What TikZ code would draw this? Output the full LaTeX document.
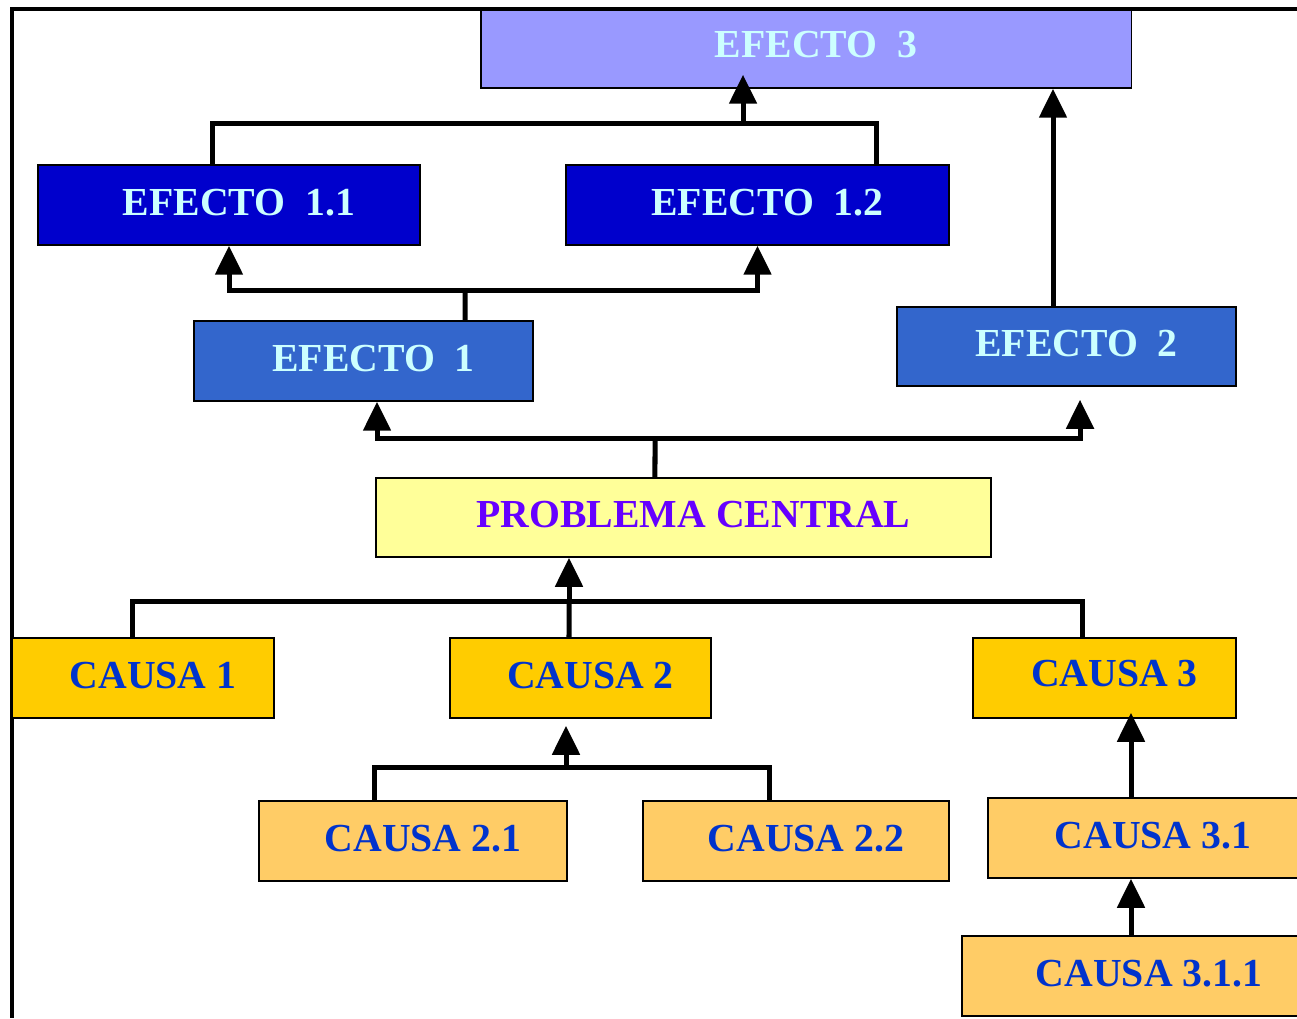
\documentclass[tikz,border=0pt]{standalone}
\usepackage{fontspec}
\setmainfont{Liberation Serif}
\usetikzlibrary{arrows.meta}

\definecolor{efectoTres}{HTML}{9999FF}
\definecolor{efectoOsc}{HTML}{0000CC}
\definecolor{efectoMed}{HTML}{3366CC}
\definecolor{textoClaro}{HTML}{CCFFFF}
\definecolor{problemaFondo}{HTML}{FFFF99}
\definecolor{problemaTexto}{HTML}{6600FF}
\definecolor{causaFondo}{HTML}{FFCC00}
\definecolor{subcausaFondo}{HTML}{FFCC66}
\definecolor{causaTexto}{HTML}{0033CC}

\tikzset{
  caja/.style={draw=black, line width=0.4pt, inner sep=0pt, minimum height=0.8cm, text depth=0.06cm,
    font=\fontsize{11.3}{13}\selectfont\bfseries, execute at begin node=\hspace*{0.2cm}},
  efecto/.style={caja, fill=efectoMed, text=textoClaro},
  conn/.style={line width=0.05cm, line join=miter},
  arr/.style={conn, -{Triangle[length=0.29cm,width=0.27cm]}}
}

\begin{document}
\begin{tikzpicture}[x=0.01cm, y=-0.01cm]
    \useasboundingbox (0,0) rectangle (1297,1018);
    \clip (0,0) rectangle (1297,1018);
    \draw[line width=0.03cm] (1297,9) -- (12,9) -- (12,1018);

    % efectos
    \node[efecto, fill=efectoTres, minimum width=6.5cm, minimum height=0.78cm, text depth=0.1cm] (e3) at (806,49) {EFECTO\ \ 3};
    \node[efecto, fill=efectoOsc, minimum width=3.82cm] (e11) at (229,205) {EFECTO\ \ 1.1};
    \node[efecto, fill=efectoOsc, minimum width=3.83cm] (e12) at (757.5,205) {EFECTO\ \ 1.2};
    \node[efecto, minimum width=3.39cm] (e1) at (363.5,361) {EFECTO\ \ 1};
    \node[efecto, minimum width=3.39cm, minimum height=0.79cm] (e2) at (1066.5,346.5) {EFECTO\ \ 2};

    % problema
    \node[caja, fill=problemaFondo, text=problemaTexto, minimum width=6.15cm, minimum height=0.79cm] (pc) at (683.5,517.5) {PROBLEMA CENTRAL};

    % causas
    \node[caja, fill=causaFondo, text=causaTexto, minimum width=2.62cm] (c1) at (143,678) {CAUSA 1};
    \node[caja, fill=causaFondo, text=causaTexto, minimum width=2.61cm] (c2) at (580.5,678) {CAUSA 2};
    \node[caja, fill=causaFondo, text=causaTexto, minimum width=2.63cm, text depth=0.1cm] (c3) at (1104.5,678) {CAUSA 3};
    \node[caja, fill=subcausaFondo, text=causaTexto, minimum width=3.08cm] (c21) at (413,841) {CAUSA 2.1};
    \node[caja, fill=subcausaFondo, text=causaTexto, minimum width=3.06cm] (c22) at (796,841) {CAUSA 2.2};
    \node[caja, fill=subcausaFondo, text=causaTexto, minimum width=3.10cm] (c31) at (1143,838) {CAUSA 3.1};
    \node[caja, fill=subcausaFondo, text=causaTexto, minimum width=3.54cm] (c311) at (1139,976) {CAUSA 3.1.1};

    % uniones
    \coordinate (j3) at (743,123);
    \coordinate (j1) at (465,290);
    \coordinate (jp) at (655,438);
    \coordinate (jc) at (569,601);
    \coordinate (j2) at (566,767);
    \coordinate (e2t) at ([xshift=-0.135cm]e2.north);
    \coordinate (c31t) at ([xshift=-0.12cm]c31.north);
    \coordinate (c311t) at ([xshift=-0.08cm]c311.north);

    \draw[conn] ([xshift=-0.16cm]e11.north) |- (j3) -| ([xshift=1.185cm]e12.north);
    \draw[arr] (j3) -- ([yshift=0.14cm]e3.south -| j3);
    \draw[arr] (e2t) -- (e2t |- e3.south);

    \draw[conn] ([xshift=1.015cm]e1.north) -- (j1);
    \draw[arr] (j1) -| (e11.south);
    \draw[arr] (j1) -| (e12.south);

    \draw[conn] ([xshift=-0.285cm]pc.north) -- (jp);
    \draw[arr] (jp) -| ([xshift=0.135cm]e1.south);
    \draw[arr] (jp) -| ([xshift=0.135cm,yshift=-0.13cm]e2.south);

    \draw[conn] ([xshift=-0.1cm]c1.north) |- (jc) -| ([xshift=-0.225cm]c3.north);
    \draw[conn] ([xshift=-0.115cm]c2.north) -- (jc);
    \draw[arr] (jc) -- (jc |- pc.south);

    \draw[conn] ([xshift=-0.38cm]c21.north) |- (j2) -| ([xshift=-0.26cm]c22.north);
    \draw[arr] (j2) -- ([yshift=-0.07cm]c2.south -| j2);

    \draw[arr] (c31t) -- ([yshift=0.06cm]c3.south -| c31t);
    \draw[arr] (c311t) -- (c311t |- c31.south);
\end{tikzpicture}
\end{document}
